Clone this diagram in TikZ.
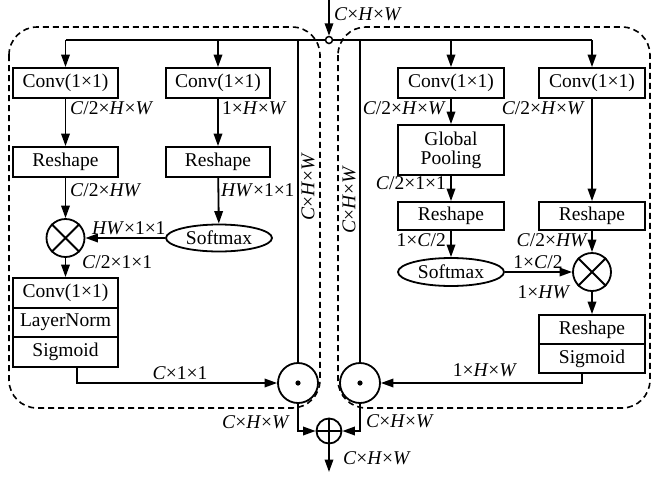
\documentclass[tikz,border=0pt]{standalone}
\usepackage{fontspec}
\setmainfont{Liberation Serif}
\usetikzlibrary{arrows.meta,shapes.geometric}
\begin{document}
\begin{tikzpicture}[x=1pt,y=-1pt,
  every node/.style={font=\fontsize{19.5}{21}\selectfont},
  lw/.style={line width=1.8pt},
  thinln/.style={line width=1.3pt},
  arr/.style={lw,-{Triangle[length=12.5pt,width=8.5pt]}},
  dashbox/.style={line width=1.6pt,dash pattern=on 6pt off 4pt,rounded corners=28pt},
  blk/.style={draw,lw,fill=white,inner sep=0pt,minimum height=30pt,minimum width=105pt},
  ell/.style={draw,lw,ellipse,fill=white,inner sep=0pt,minimum width=106pt,minimum height=27pt},
  op/.style={draw,lw,circle,fill=white,inner sep=0pt},
  lab/.style={inner sep=0pt}]
\useasboundingbox (0,0) rectangle (665,480);
% dashed groups
\draw[dashbox] (9,27) rectangle (320,408);
\draw[dashbox] (338,27) rectangle (650,408);
% ---------- nodes ----------
\node[blk] (conv1) at (65.5,83) {Conv(1×1)};
\node[blk,minimum width=104pt] (conv2) at (218,83) {Conv(1×1)};
\node[blk] (resh1) at (65.5,162) {Reshape};
\node[blk,minimum width=104pt] (resh2) at (218,162) {Reshape};
\node[op,minimum size=38pt] (mul1) at (65.5,238) {};
\node[ell] (soft1) at (219,238) {Softmax};
\node[blk,minimum height=29.7pt] (conv5) at (65.5,292.85) {Conv(1×1)};
\node[blk,minimum height=29.7pt] (ln1) at (65.5,322.5) {LayerNorm};
\node[blk,minimum height=29.7pt] (sig1) at (65.5,352.15) {Sigmoid};
\node[op,minimum size=40pt] (dot1) at (298,383) {};
\node[op,minimum size=40pt] (dot2) at (360,383) {};
\fill (dot1) circle (2.6pt);
\fill (dot2) circle (2.6pt);
\node[blk,minimum width=106pt] (conv3) at (451,83) {Conv(1×1)};
\node[blk,minimum width=106pt] (conv4) at (592,83) {Conv(1×1)};
\node[blk,minimum width=106pt,minimum height=50pt,align=center] (pool) at (451,150) {Global\\[-2pt]Pooling};
\node[blk,minimum width=106pt,minimum height=28pt] (resh3) at (451,216) {Reshape};
\node[blk,minimum width=106pt,minimum height=28pt] (resh4) at (592,216) {Reshape};
\node[ell,minimum height=28pt] (soft2) at (451,272) {Softmax};
\node[op,minimum size=38pt] (mul2) at (592,272) {};
\node[blk,minimum width=106pt,minimum height=29pt] (resh5) at (592,329.5) {Reshape};
\node[blk,minimum width=106pt,minimum height=29pt] (sig2) at (592,358.5) {Sigmoid};
\node[op,minimum size=25pt] (add) at (329,431) {};
% symbol strokes
\draw[lw] (mul1.north west) -- (mul1.south east) (mul1.north east) -- (mul1.south west);
\draw[lw] (mul2.north west) -- (mul2.south east) (mul2.north east) -- (mul2.south west);
\draw[lw] (add.north) -- (add.south) (add.west) -- (add.east);
% ---------- coordinates ----------
\coordinate (in) at (329,0);
\coordinate (out) at (329,472);
\coordinate (t1) at (65.5,40);
\coordinate (t2) at (218,40);
\coordinate (t3) at (451,40);
\coordinate (t4) at (592,40);
\coordinate (t5) at (298,40);
\coordinate (t6) at (360,40);
% ---------- connectors ----------
\draw[lw] (t1) -- (t4);
\draw[thinln] (t5) -- (dot1.north);
\draw[thinln] (t6) -- (dot2.north);
\node[draw,line width=1.5pt,circle,fill=white,inner sep=0pt,minimum size=7pt] (jn) at (329,40) {};
\draw[arr] (in) -- (jn);
\draw[arr] (t1) -- (conv1);
\draw[arr] (t2) -- (conv2);
\draw[arr] (t3) -- (conv3);
\draw[arr] (t4) -- (conv4);
\draw[arr] (conv1) -- (resh1);
\draw[arr] (resh1) -- (mul1);
\draw[arr] (conv2) -- (resh2);
\draw[arr] (resh2) -- (soft1);
\draw[arr] (soft1) -- (mul1);
\draw[arr] (mul1) -- (conv5);
\draw[arr] ([xshift=11.5pt]sig1.south) |- (dot1);
\draw[arr] (conv3) -- (pool);
\draw[arr] (pool) -- (resh3);
\draw[arr] (resh3) -- (soft2);
\draw[arr] (soft2) -- (mul2);
\draw[arr] (conv4) -- (resh4);
\draw[arr] (resh4) -- (mul2);
\draw[arr] (mul2) -- (resh5);
\draw[arr] ([xshift=-10pt]sig2.south) |- (dot2);
\draw[arr] (dot1) |- (add);
\draw[arr] (dot2) |- (add);
\draw[arr] (add) -- (out);
% ---------- labels ----------
\node[lab,anchor=west] (l1) at (70,108) {\textit{C}/2×\textit{H}×\textit{W}};
\node[lab,anchor=west] (l2) at (222,108) {1×\textit{H}×\textit{W}};
\node[lab,anchor=west] (l3) at (70,190) {\textit{C}/2×\textit{HW}};
\node[lab,anchor=west] (l4) at (221,190) {\textit{HW}×1×1};
\node[lab,anchor=west] (l5) at (92,228) {\textit{HW}×1×1};
\node[lab,anchor=west] (l6) at (82,262) {\textit{C}/2×1×1};
\node[lab] (l7) at (180,373) {\textit{C}×1×1};
\node[lab,rotate=90] (l8) at (308,187) {\textit{C}×\textit{H}×\textit{W}};
\node[lab,rotate=90] (l9) at (349,200) {\textit{C}×\textit{H}×\textit{W}};
\node[lab,anchor=east] (l10) at (446,108) {\textit{C}/2×\textit{H}×\textit{W}};
\node[lab,anchor=east] (l11) at (585,108) {\textit{C}/2×\textit{H}×\textit{W}};
\node[lab,anchor=east] (l12) at (446,183) {\textit{C}/2×1×1};
\node[lab,anchor=east] (l13) at (446,240) {1×\textit{C}/2};
\node[lab,anchor=east] (l14) at (588,240) {\textit{C}/2×\textit{HW}};
\node[lab] (l15) at (538,262) {1×\textit{C}/2};
\node[lab] (l16) at (544,292) {1×\textit{HW}};
\node[lab] (l17) at (485,370) {1×\textit{H}×\textit{W}};
\node[lab] (l18) at (256,422) {\textit{C}×\textit{H}×\textit{W}};
\node[lab] (l19) at (400,421) {\textit{C}×\textit{H}×\textit{W}};
\node[lab] (l20) at (377,458) {\textit{C}×\textit{H}×\textit{W}};
\node[lab] (l21) at (368,14) {\textit{C}×\textit{H}×\textit{W}};
\end{tikzpicture}
\end{document}
